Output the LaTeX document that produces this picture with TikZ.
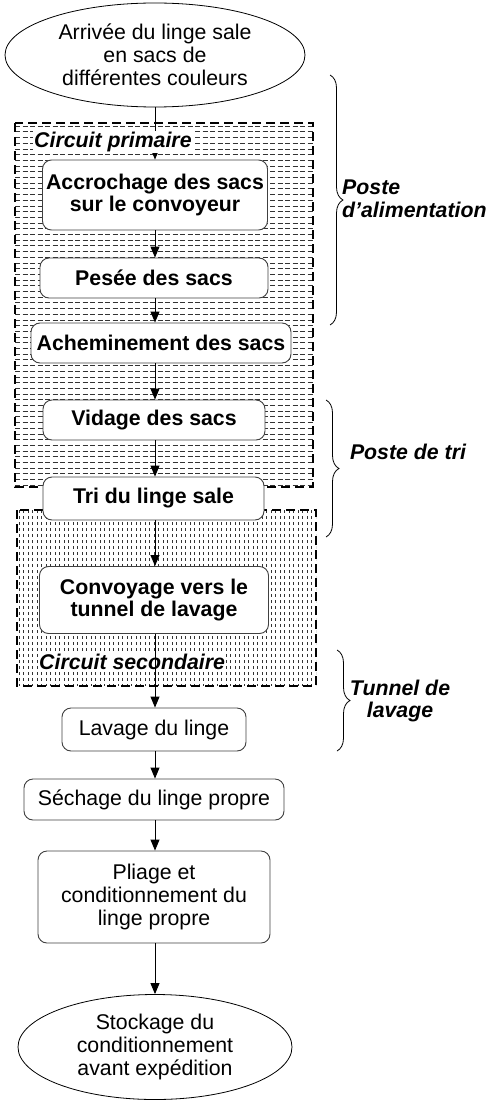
\documentclass[tikz,border=0pt]{standalone}
\usepackage{fontspec}
\setmainfont{Liberation Sans}
\usetikzlibrary{arrows.meta,shapes.geometric,backgrounds,decorations.pathreplacing}
\definecolor{boxGrey}{HTML}{404040}
\newcommand{\flowsize}{\fontsize{21.3}{22.8}\selectfont}

\begin{document}
\begin{tikzpicture}[x=1pt, y=-1pt,
        stepbox/.style={draw=boxGrey, line width=0.9pt, rounded corners=9pt, fill=white,
                        align=center, inner sep=0pt, font=\flowsize\bfseries},
        washbox/.style={stepbox, font=\flowsize},
        endcap/.style={ellipse, draw, line width=0.8pt, fill=white, align=center,
                       inner sep=0pt, font=\flowsize},
        zone/.style={line width=2.6pt, dash pattern=on 9pt off 5pt},
        hatch/.style={line width=0.45pt, black!80},
        circtag/.style={fill=white, inner sep=1pt, font=\flowsize\bfseries\itshape},
        postetag/.style={inner sep=0pt, font=\flowsize\bfseries\itshape},
        curly/.style={decorate, decoration={brace, amplitude=13pt}, line width=0.8pt},
        arr/.style={-{Triangle[length=11pt, width=9pt]}, line width=0.9pt}
    ]
        \useasboundingbox (0,0) rectangle (494,1102);

        % circuits (fills + dashed frames)
        \begin{scope}[on background layer]
            \begin{scope}
                \clip (15,123) rectangle (313,487);
                \foreach \r in {126,131.7,...,486}
                    \draw[hatch, dash pattern=on 5pt off 2.5pt] (15,\r) -- (313,\r);
            \end{scope}
            \draw[zone] (15,123) rectangle (313,487);
            \begin{scope}
                \clip (17,510) rectangle (316,686);
                \foreach \c in {19,23.5,...,316}
                    \draw[hatch, dash pattern=on 2.5pt off 3.5pt] (\c,510) -- (\c,686);
            \end{scope}
            \draw[zone] (17,510) rectangle (316,686);
        \end{scope}

        % steps
        \node[endcap, minimum width=300pt, minimum height=104pt] (arrivee) at (155,55)
            {Arrivée du linge sale\\en sacs de\\différentes couleurs};
        \node[stepbox, minimum width=225pt, minimum height=70pt] (accrochage) at (155,195)
            {Accrochage des sacs\\sur le convoyeur};
        \node[stepbox, minimum width=228pt, minimum height=40pt] (pesee) at (154,278) {Pesée des sacs};
        \node[stepbox, minimum width=260pt, minimum height=40pt] (achem) at (161,343) {Acheminement des sacs};
        \node[stepbox, minimum width=222pt, minimum height=40pt] (vidage) at (154,420) {Vidage des sacs};
        \node[stepbox, minimum width=221pt, minimum height=43pt] (tri) at (153.5,498.5) {Tri du linge sale};
        \node[stepbox, minimum width=229pt, minimum height=67pt] (convoyage) at (154,600)
            {Convoyage vers le\\tunnel de lavage};
        \node[washbox, minimum width=184pt, minimum height=43pt] (lavage) at (154,729.5) {Lavage du linge};
        \node[washbox, minimum width=260pt, minimum height=41pt] (sechage) at (154,799.5) {Séchage du linge propre};
        \node[washbox, minimum width=232pt, minimum height=92pt] (pliage) at (154,897)
            {Pliage et\\conditionnement du\\linge propre};
        \node[endcap, minimum width=274pt, minimum height=105pt] (stockage) at (155,1047)
            {Stockage du\\conditionnement\\avant expédition};

        \node[circtag, anchor=west] (sectag) at (38,662) {Circuit secondaire};

        \foreach \from/\to in {arrivee/accrochage, accrochage/pesee, pesee/achem, achem/vidage,
                vidage/tri, tri/convoyage, convoyage/lavage, lavage/sechage,
                sechage/pliage, pliage/stockage}
            \draw[arr] (arrivee.south |- \from.south) -- (arrivee.south |- \to.north);

        \node[circtag, anchor=west] (primtag) at (33,142) {Circuit primaire};

        % postes
        \draw[curly] (330,75) -- (330,325);
        \node[postetag, align=left, anchor=west] (alimtag) at (342,199) {Poste\\d’alimentation};
        \draw[curly] (326,400) -- (326,537);
        \node[postetag] (tritag) at (408,452) {Poste de tri};
        \draw[curly] (337,650) -- (337,751);
        \node[postetag, align=center] (tunneltag) at (400,701) {Tunnel de\\lavage};
\end{tikzpicture}
\end{document}
